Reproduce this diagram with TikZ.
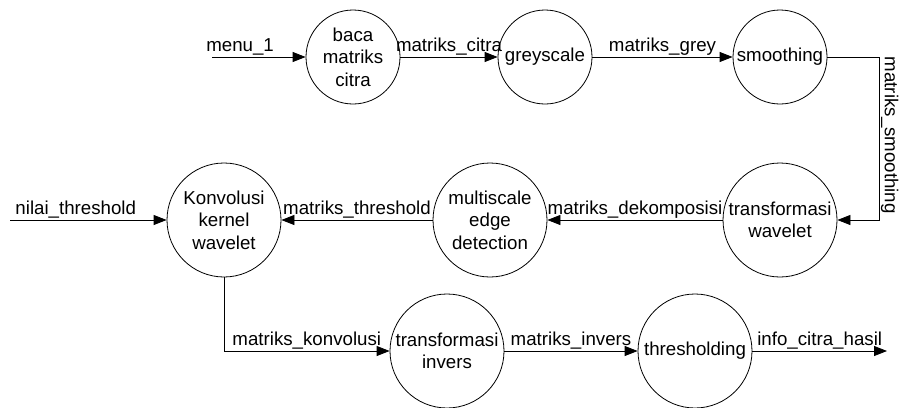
\documentclass[tikz,border=0pt]{standalone}
\usepackage{fontspec}
\setmainfont{Liberation Sans}
\usetikzlibrary{arrows.meta}

\begin{document}
\begin{tikzpicture}[x=1pt,y=-1pt,
  proc/.style={draw,circle,line width=0.8pt,inner sep=0pt,align=center,font=\fontsize{18.7}{22.5}\selectfont},
  small/.style={proc,minimum size=94pt},
  big/.style={proc,minimum size=114pt},
  flow/.style={line width=0.8pt,-{Triangle[length=13pt,width=10pt]}},
  lbl/.style={font=\fontsize{18.7}{22.5}\selectfont,inner sep=1.5pt}]
\useasboundingbox (0,0) rectangle (901,407);
\node[small] (baca) at (353,57) {baca\\matriks\\citra};
\node[small] (grey) at (545,57) {greyscale};
\node[small] (smooth) at (780,57) {smoothing};
\node[big] (wavelet) at (780,220) {transformasi\\wavelet};
\node[big] (multi) at (490,220) {multiscale\\edge\\detection};
\node[big] (konv) at (224,220) {Konvolusi\\kernel\\wavelet};
\node[big] (invers) at (447,351) {transformasi\\invers};
\node[big] (thres) at (695,351) {thresholding};
\coordinate (menu) at (212,57);
\coordinate (nilai) at (10,220);
\coordinate (belok) at (879,57);
\coordinate (hasil) at (887,351);
\draw[flow] (menu) -- (baca) node[lbl,above,pos=0.3] {menu\_1};
\draw[flow] (baca) -- (grey) node[lbl,above,midway] {matriks\_citra};
\draw[flow] (grey) -- (smooth) node[lbl,above,midway] {matriks\_grey};
\draw[flow] (smooth) -- (belok) |- (wavelet) node[lbl,rotate=-90,anchor=south,pos=0.24] {matriks\_smoothing};
\draw[flow] (wavelet) -- (multi) node[lbl,above,midway] {matriks\_dekomposisi};
\draw[flow] (multi) -- (konv) node[lbl,above,midway] {matriks\_threshold};
\draw[flow] (nilai) -- (konv) node[lbl,above,pos=0.42] {nilai\_threshold};
\draw[flow] (konv) |- (invers) node[lbl,above,pos=0.75] {matriks\_konvolusi};
\draw[flow] (invers) -- (thres) node[lbl,above,midway] {matriks\_invers};
\draw[flow] (thres) -- (hasil) node[lbl,above,midway] {info\_citra\_hasil};

\end{tikzpicture}
\end{document}
